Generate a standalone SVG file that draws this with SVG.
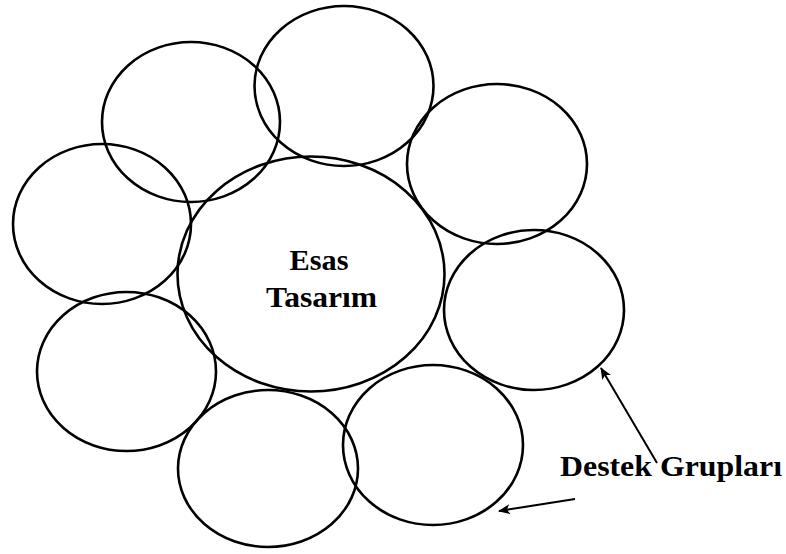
<svg xmlns="http://www.w3.org/2000/svg" width="786" height="554" viewBox="0 0 786 554">
  <style>
    .ring { fill: none; stroke: #000; stroke-width: 2.6; }
    .lbl { font-family: "Liberation Serif", "Times New Roman", serif; font-weight: bold; font-size: 30px; fill: #000; }
    .conn line { stroke: #000; stroke-width: 2; }
  </style>
  <defs>
    <marker id="arrow" viewBox="0 0 12 10" refX="11" refY="5" markerWidth="12" markerHeight="10" markerUnits="userSpaceOnUse" orient="auto">
      <path d="M0,0 L12,5 L0,10 L3,5 Z" fill="#000"/>
    </marker>
  </defs>
  <rect width="786" height="554" fill="#fff"/>

  <!-- support groups around the core -->
  <g id="group-top-left"><ellipse class="ring" cx="191" cy="122" rx="89" ry="80"/></g>
  <g id="group-top"><ellipse class="ring" cx="344" cy="86" rx="89.5" ry="80"/></g>
  <g id="group-top-right"><ellipse class="ring" cx="497" cy="164" rx="90" ry="80"/></g>
  <g id="group-left"><ellipse class="ring" cx="102" cy="224" rx="89" ry="80"/></g>
  <g id="group-right"><ellipse class="ring" cx="534" cy="310" rx="90" ry="80"/></g>
  <g id="group-bottom-left"><ellipse class="ring" cx="126.5" cy="371.5" rx="89.5" ry="79.5"/></g>
  <g id="group-bottom"><ellipse class="ring" cx="268" cy="468.5" rx="90" ry="78.5"/></g>
  <g id="group-bottom-right"><ellipse class="ring" cx="433" cy="445" rx="90" ry="80"/></g>

  <!-- core design -->
  <g id="core">
    <ellipse class="ring" cx="311" cy="274" rx="133.5" ry="117.5"/>
    <text class="lbl" x="319" y="270" text-anchor="middle" textLength="59" lengthAdjust="spacingAndGlyphs">Esas</text>
    <text class="lbl" x="321.5" y="307" text-anchor="middle" textLength="111" lengthAdjust="spacingAndGlyphs">Tasarım</text>
  </g>

  <g id="label">
    <text class="lbl" x="560" y="476" textLength="222" lengthAdjust="spacingAndGlyphs">Destek Grupları</text>
  </g>

  <g class="conn" id="connectors">
    <line x1="657" y1="463" x2="601" y2="368" marker-end="url(#arrow)"/>
    <line x1="575" y1="499" x2="499" y2="511" marker-end="url(#arrow)"/>
  </g>
</svg>
